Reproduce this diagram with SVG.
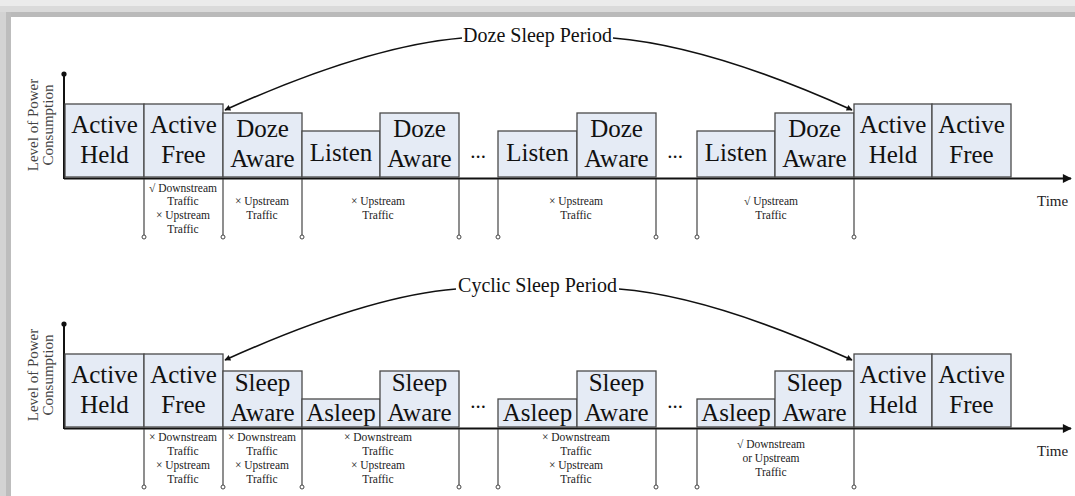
<svg xmlns="http://www.w3.org/2000/svg" width="1075" height="496" viewBox="0 0 1075 496">
  <defs>
    <style>
      .box { fill: #e5ebf5; stroke: #4a4a4a; stroke-width: 1.3; }
      .big { font-family: "Liberation Serif", "Times New Roman", serif; font-size: 25px; fill: #111; text-anchor: middle; }
      .small { font-family: "Liberation Serif", "Times New Roman", serif; font-size: 11.5px; fill: #222; text-anchor: middle; }
      .axislbl { font-family: "Liberation Serif", "Times New Roman", serif; font-size: 15px; fill: #444; text-anchor: middle; }
      .title { font-family: "Liberation Serif", "Times New Roman", serif; font-size: 20px; fill: #111; text-anchor: middle; }
      .time { font-family: "Liberation Serif", "Times New Roman", serif; font-size: 15px; fill: #222; }
      .dots { font-family: "Liberation Serif", "Times New Roman", serif; font-size: 21px; fill: #111; text-anchor: middle; }
      .axis { stroke: #111; stroke-width: 2; fill: none; }
      .tick { stroke: #444; stroke-width: 1.2; fill: none; }
      .end { fill: #fff; stroke: #444; stroke-width: 1; }
      .arc { stroke: #111; stroke-width: 1.6; fill: none; marker-end: url(#head); }
    </style>
    <marker id="head" viewBox="0 0 10 10" refX="9" refY="5" markerWidth="7" markerHeight="6" markerUnits="userSpaceOnUse" orient="auto">
      <path d="M0,0 L10,5 L0,10 z" fill="#111"/>
    </marker>
    <marker id="axhead" viewBox="0 0 10 10" refX="9" refY="5" markerWidth="13" markerHeight="9" markerUnits="userSpaceOnUse" orient="auto">
      <path d="M0,0 L10,5 L0,10 z" fill="#111"/>
    </marker>
    <!-- one panel's tick lines with their end rings -->
    <g id="ticks">
      <g class="tick">
        <line x1="144" y1="179" x2="144" y2="235"/>
        <line x1="223" y1="179" x2="223" y2="235"/>
        <line x1="302" y1="179" x2="302" y2="235"/>
        <line x1="459" y1="179" x2="459" y2="235"/>
        <line x1="498" y1="179" x2="498" y2="235"/>
        <line x1="656" y1="179" x2="656" y2="235"/>
        <line x1="697" y1="179" x2="697" y2="235"/>
        <line x1="854" y1="179" x2="854" y2="235"/>
      </g>
      <g class="end">
        <circle cx="144" cy="237" r="2"/>
        <circle cx="223" cy="237" r="2"/>
        <circle cx="302" cy="237" r="2"/>
        <circle cx="459" cy="237" r="2"/>
        <circle cx="498" cy="237" r="2"/>
        <circle cx="656" cy="237" r="2"/>
        <circle cx="697" cy="237" r="2"/>
        <circle cx="854" cy="237" r="2"/>
      </g>
    </g>
  </defs>

  <rect width="1075" height="496" fill="#fff"/>
  <!-- shaded frame along the top and left edges -->
  <rect x="0" y="0" width="1075" height="6" fill="#ebebeb"/>
  <rect x="0" y="6" width="1075" height="6" fill="#dadada"/>
  <rect x="11" y="12" width="1064" height="5" fill="#bababa"/>
  <rect x="0" y="12" width="6" height="484" fill="#d3d3d3"/>
  <rect x="6" y="12" width="5" height="484" fill="#bdbdbd"/>

  <!-- ===== Doze mode panel ===== -->
  <g id="doze-panel">
    <g id="doze-axes">
      <line class="axis" x1="64" y1="179" x2="64" y2="75"/>
      <circle cx="64" cy="74" r="2.6" fill="#111"/>
      <line class="axis" x1="64" y1="178.5" x2="1071" y2="178.5" marker-end="url(#axhead)"/>
      <text class="axislbl" transform="translate(37.5,125) rotate(-90)">Level of Power</text>
      <text class="axislbl" transform="translate(53,125) rotate(-90)">Consumption</text>
      <text class="time" x="1037" y="206">Time</text>
    </g>
    <use href="#ticks"/>

    <g id="d-active-held-1"><rect class="box" x="65" y="104" width="79" height="73"/><text class="big" x="104.5" y="133">Active</text><text class="big" x="104.5" y="163">Held</text></g>
    <g id="d-active-free-1"><rect class="box" x="144" y="104" width="79" height="73"/><text class="big" x="183.5" y="133">Active</text><text class="big" x="183.5" y="163">Free</text></g>
    <g id="d-doze-aware-1"><rect class="box" x="223" y="113" width="79" height="64"/><text class="big" x="262.5" y="137">Doze</text><text class="big" x="262.5" y="167">Aware</text></g>
    <g id="d-listen-1"><rect class="box" x="302" y="131" width="78" height="46"/><text class="big" x="341" y="161">Listen</text></g>
    <g id="d-doze-aware-2"><rect class="box" x="380" y="113" width="79" height="64"/><text class="big" x="419.5" y="137">Doze</text><text class="big" x="419.5" y="167">Aware</text></g>
    <text class="dots" x="478" y="158">...</text>
    <g id="d-listen-2"><rect class="box" x="498" y="131" width="79" height="46"/><text class="big" x="537.5" y="161">Listen</text></g>
    <g id="d-doze-aware-3"><rect class="box" x="577" y="113" width="79" height="64"/><text class="big" x="616.5" y="137">Doze</text><text class="big" x="616.5" y="167">Aware</text></g>
    <text class="dots" x="675" y="158">...</text>
    <g id="d-listen-3"><rect class="box" x="697" y="131" width="78" height="46"/><text class="big" x="736" y="161">Listen</text></g>
    <g id="d-doze-aware-4"><rect class="box" x="775" y="113" width="79" height="64"/><text class="big" x="814.5" y="137">Doze</text><text class="big" x="814.5" y="167">Aware</text></g>
    <g id="d-active-held-2"><rect class="box" x="854" y="104" width="78" height="73"/><text class="big" x="893" y="133">Active</text><text class="big" x="893" y="163">Held</text></g>
    <g id="d-active-free-2"><rect class="box" x="932" y="104" width="79" height="73"/><text class="big" x="971.5" y="133">Active</text><text class="big" x="971.5" y="163">Free</text></g>

    <g id="doze-traffic">
      <text class="small" x="183" y="192">√ Downstream</text>
      <text class="small" x="183" y="205">Traffic</text>
      <text class="small" x="183" y="219">× Upstream</text>
      <text class="small" x="183" y="233">Traffic</text>
      <text class="small" x="262" y="205">× Upstream</text>
      <text class="small" x="262" y="219">Traffic</text>
      <text class="small" x="378" y="205">× Upstream</text>
      <text class="small" x="378" y="219">Traffic</text>
      <text class="small" x="576" y="205">× Upstream</text>
      <text class="small" x="576" y="219">Traffic</text>
      <text class="small" x="771" y="205">√ Upstream</text>
      <text class="small" x="771" y="219">Traffic</text>
    </g>

    <g id="doze-connectors">
      <path class="arc" d="M462,38 Q367,46 225,110"/>
      <path class="arc" d="M613,38 Q710,46 852,110"/>
      <text class="title" x="537.5" y="42">Doze Sleep Period</text>
    </g>
  </g>

  <!-- ===== Cyclic sleep panel ===== -->
  <g id="cyclic-panel" transform="translate(0,250)">
    <g id="cyclic-axes">
      <line class="axis" x1="64" y1="179" x2="64" y2="75"/>
      <circle cx="64" cy="74" r="2.6" fill="#111"/>
      <line class="axis" x1="64" y1="178.5" x2="1071" y2="178.5" marker-end="url(#axhead)"/>
      <text class="axislbl" transform="translate(37.5,125) rotate(-90)">Level of Power</text>
      <text class="axislbl" transform="translate(53,125) rotate(-90)">Consumption</text>
      <text class="time" x="1037" y="206">Time</text>
    </g>
    <use href="#ticks"/>

    <g id="c-active-held-1"><rect class="box" x="65" y="104" width="79" height="73"/><text class="big" x="104.5" y="133">Active</text><text class="big" x="104.5" y="163">Held</text></g>
    <g id="c-active-free-1"><rect class="box" x="144" y="104" width="79" height="73"/><text class="big" x="183.5" y="133">Active</text><text class="big" x="183.5" y="163">Free</text></g>
    <g id="c-sleep-aware-1"><rect class="box" x="223" y="121" width="79" height="56"/><text class="big" x="262.5" y="141">Sleep</text><text class="big" x="262.5" y="171">Aware</text></g>
    <g id="c-asleep-1"><rect class="box" x="302" y="149" width="78" height="28"/><text class="big" x="341" y="171">Asleep</text></g>
    <g id="c-sleep-aware-2"><rect class="box" x="380" y="121" width="79" height="56"/><text class="big" x="419.5" y="141">Sleep</text><text class="big" x="419.5" y="171">Aware</text></g>
    <text class="dots" x="478" y="158">...</text>
    <g id="c-asleep-2"><rect class="box" x="498" y="149" width="79" height="28"/><text class="big" x="537.5" y="171">Asleep</text></g>
    <g id="c-sleep-aware-3"><rect class="box" x="577" y="121" width="79" height="56"/><text class="big" x="616.5" y="141">Sleep</text><text class="big" x="616.5" y="171">Aware</text></g>
    <text class="dots" x="675" y="158">...</text>
    <g id="c-asleep-3"><rect class="box" x="697" y="149" width="78" height="28"/><text class="big" x="736" y="171">Asleep</text></g>
    <g id="c-sleep-aware-4"><rect class="box" x="775" y="121" width="79" height="56"/><text class="big" x="814.5" y="141">Sleep</text><text class="big" x="814.5" y="171">Aware</text></g>
    <g id="c-active-held-2"><rect class="box" x="854" y="104" width="78" height="73"/><text class="big" x="893" y="133">Active</text><text class="big" x="893" y="163">Held</text></g>
    <g id="c-active-free-2"><rect class="box" x="932" y="104" width="79" height="73"/><text class="big" x="971.5" y="133">Active</text><text class="big" x="971.5" y="163">Free</text></g>

    <g id="cyclic-traffic">
      <text class="small" x="183" y="191">× Downstream</text>
      <text class="small" x="183" y="205">Traffic</text>
      <text class="small" x="183" y="219">× Upstream</text>
      <text class="small" x="183" y="233">Traffic</text>
      <text class="small" x="262" y="191">× Downstream</text>
      <text class="small" x="262" y="205">Traffic</text>
      <text class="small" x="262" y="219">× Upstream</text>
      <text class="small" x="262" y="233">Traffic</text>
      <text class="small" x="378" y="191">× Downstream</text>
      <text class="small" x="378" y="205">Traffic</text>
      <text class="small" x="378" y="219">× Upstream</text>
      <text class="small" x="378" y="233">Traffic</text>
      <text class="small" x="576" y="191">× Downstream</text>
      <text class="small" x="576" y="205">Traffic</text>
      <text class="small" x="576" y="219">× Upstream</text>
      <text class="small" x="576" y="233">Traffic</text>
      <text class="small" x="771" y="198">√ Downstream</text>
      <text class="small" x="771" y="212">or Upstream</text>
      <text class="small" x="771" y="226">Traffic</text>
    </g>

    <g id="cyclic-connectors">
      <path class="arc" d="M456,39 Q367,46 225,110"/>
      <path class="arc" d="M619,39 Q710,46 852,110"/>
      <text class="title" x="537.5" y="42">Cyclic Sleep Period</text>
    </g>
  </g>
</svg>
